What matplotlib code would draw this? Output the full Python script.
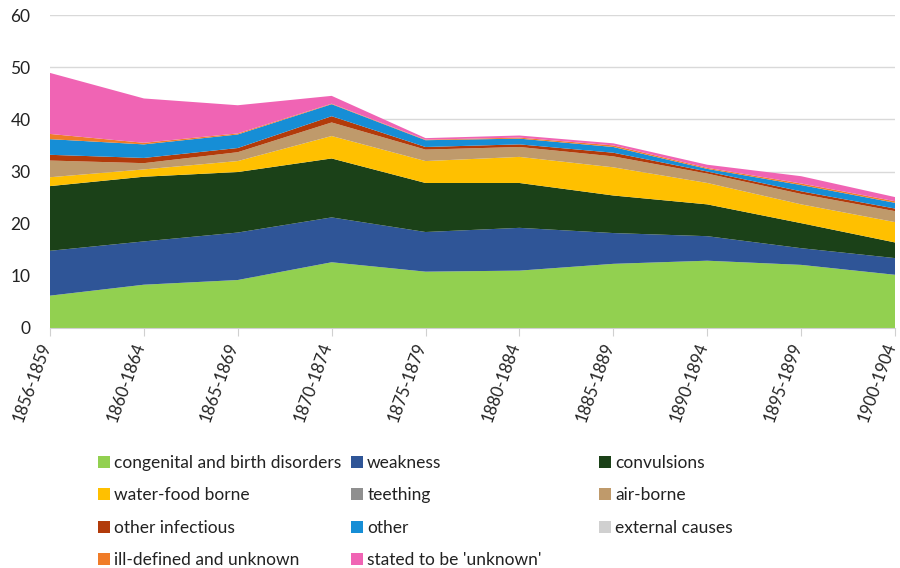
import matplotlib
matplotlib.use("Agg")
from matplotlib import pyplot as plt
from matplotlib.patches import Patch
from matplotlib.transforms import ScaledTranslation

periods = ["1856-1859", "1860-1864", "1865-1869", "1870-1874", "1875-1879",
           "1880-1884", "1885-1889", "1890-1894", "1895-1899", "1900-1904"]

congenital = [6.2, 8.3, 9.2, 12.6, 10.8, 11.0, 12.3, 12.9, 12.1, 10.2]
weakness = [8.6, 8.3, 9.1, 8.6, 7.6, 8.2, 5.9, 4.7, 3.2, 3.2]
convulsions = [12.4, 12.4, 11.6, 11.3, 9.4, 8.6, 7.2, 6.1, 4.8, 3.0]
water_food = [1.7, 1.4, 2.1, 4.3, 4.2, 5.0, 5.4, 4.1, 3.6, 3.9]
teething = [0.0, 0.0, 0.0, 0.0, 0.0, 0.0, 0.0, 0.0, 0.0, 0.0]
air_borne = [3.2, 1.2, 1.7, 2.6, 2.2, 1.9, 2.1, 1.8, 2.0, 2.1]
other_infectious = [1.1, 1.0, 0.8, 1.2, 0.5, 0.5, 0.7, 0.4, 0.5, 0.5]
other = [3.0, 2.6, 2.6, 2.3, 1.3, 1.1, 1.1, 0.5, 1.2, 1.1]
external = [0.0, 0.0, 0.0, 0.0, 0.0, 0.0, 0.0, 0.0, 0.0, 0.0]
ill_defined = [1.0, 0.3, 0.2, 0.1, 0.1, 0.2, 0.3, 0.2, 0.3, 0.3]
stated_unknown = [11.7, 8.5, 5.4, 1.5, 0.3, 0.4, 0.4, 0.6, 1.4, 0.8]

labels = ["congenital and birth disorders", "weakness", "convulsions",
          "water-food borne", "teething", "air-borne",
          "other infectious", "other", "external causes",
          "ill-defined and unknown", "stated to be 'unknown'"]
colors = ["#92D050", "#2F5597", "#1B4118", "#FFC000", "#8F8F8F", "#BF9A6B",
          "#B23B0A", "#168ED6", "#D0D0D0", "#F07C28", "#F064B4"]

plt.rcParams["font.family"] = ["Lato", "DejaVu Sans"]
plt.rcParams["font.size"] = 12

fig = plt.figure(figsize=(9, 5.68), dpi=100)
ax = fig.add_axes([50 / 900, 1 - 328 / 568, 845 / 900, 313 / 568])

x = list(range(len(periods)))
ax.stackplot(x, congenital, weakness, convulsions, water_food, teething,
             air_borne, other_infectious, other, external, ill_defined,
             stated_unknown, colors=colors, zorder=3)

ax.set_xlim(0, len(periods) - 1)
ax.set_ylim(0, 60)
ax.set_yticks(range(0, 61, 10))
ax.yaxis.grid(True, color="#D9D9D9", linewidth=1, zorder=0)
ax.tick_params(axis="y", length=0, pad=14, labelsize=12.5, colors="#222222")

ax.set_xticks(x)
ax.set_xticklabels(periods, rotation=70, ha="right", va="center",
                   rotation_mode="anchor", fontsize=12, color="#222222")
ax.tick_params(axis="x", length=6, color="#D0D0D0", pad=5)
# nudge the rotated labels a little left so the last one stays inside
shift = ScaledTranslation(-4 / 100, 0, fig.dpi_scale_trans)
for lbl in ax.get_xticklabels():
    lbl.set_transform(lbl.get_transform() + shift)

for side in ["top", "right", "left"]:
    ax.spines[side].set_visible(False)
ax.spines["bottom"].set_color("#D0D0D0")
ax.spines["bottom"].set_zorder(4)

# legend in three separate columns so they line up with fixed spacing
columns = [[0, 3, 6, 9], [1, 4, 7, 10], [2, 5, 8]]
col_x = [89 / 900, 342 / 900, 590 / 900]
for cx, idx in zip(col_x, columns):
    handles = [Patch(facecolor=colors[i], label=labels[i]) for i in idx]
    leg = fig.legend(handles=handles, loc="upper left",
                     bbox_to_anchor=(cx, 1 - 446 / 568), frameon=False,
                     handlelength=0.7, handleheight=0.7, handletextpad=0.25,
                     labelspacing=0.95, fontsize=12.5, borderpad=0)
    for t in leg.get_texts():
        t.set_color("#222222")

plt.savefig("out.png", dpi=100)
